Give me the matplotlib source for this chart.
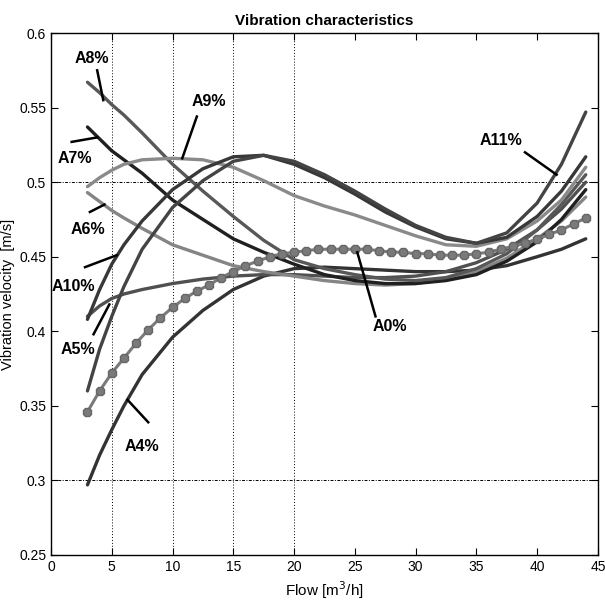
import numpy as np
import matplotlib
matplotlib.use("Agg")
import matplotlib.pyplot as plt

plt.rcParams['font.family'] = ['Liberation Sans', 'DejaVu Sans']

# flow points of the fitted curves
x_fit = [3, 4, 5, 6, 7.5, 10, 12.5, 15, 17.5, 20, 22.5, 25, 27.5, 30, 32.5, 35, 37.5, 40, 42, 44]

a8 = [0.567, 0.560, 0.552, 0.545, 0.533, 0.512, 0.494, 0.477, 0.461, 0.448, 0.442, 0.438, 0.435, 0.434, 0.436, 0.442, 0.452, 0.468, 0.485, 0.505]
a7 = [0.537, 0.529, 0.521, 0.515, 0.506, 0.488, 0.475, 0.462, 0.453, 0.445, 0.438, 0.434, 0.432, 0.432, 0.434, 0.438, 0.447, 0.460, 0.475, 0.495]
a9 = [0.497, 0.503, 0.508, 0.512, 0.515, 0.516, 0.515, 0.510, 0.501, 0.491, 0.484, 0.478, 0.471, 0.464, 0.458, 0.457, 0.462, 0.474, 0.488, 0.510]
a6 = [0.493, 0.487, 0.481, 0.476, 0.469, 0.458, 0.451, 0.444, 0.440, 0.437, 0.434, 0.432, 0.431, 0.432, 0.435, 0.440, 0.449, 0.462, 0.474, 0.490]
a10 = [0.408, 0.428, 0.445, 0.458, 0.474, 0.495, 0.509, 0.517, 0.518, 0.512, 0.503, 0.492, 0.480, 0.470, 0.462, 0.459, 0.463, 0.477, 0.494, 0.517]
a11 = [0.360, 0.388, 0.410, 0.430, 0.455, 0.483, 0.501, 0.514, 0.518, 0.514, 0.505, 0.494, 0.482, 0.471, 0.463, 0.459, 0.466, 0.486, 0.512, 0.547]
a5 = [0.410, 0.417, 0.422, 0.425, 0.428, 0.432, 0.435, 0.437, 0.438, 0.438, 0.437, 0.436, 0.436, 0.437, 0.440, 0.446, 0.455, 0.468, 0.482, 0.500]
a4 = [0.297, 0.317, 0.334, 0.350, 0.371, 0.396, 0.414, 0.428, 0.437, 0.442, 0.443, 0.442, 0.441, 0.440, 0.440, 0.441, 0.444, 0.450, 0.455, 0.462]

# measured points (A0%)
x_a0 = list(range(3, 45))
a0 = [0.346, 0.360, 0.372, 0.382, 0.392, 0.401, 0.409, 0.416, 0.422, 0.427,
      0.431, 0.436, 0.440, 0.444, 0.447, 0.450, 0.452, 0.453, 0.454, 0.455,
      0.455, 0.455, 0.455, 0.455, 0.454, 0.453, 0.453, 0.452, 0.452, 0.451,
      0.451, 0.451, 0.452, 0.453, 0.455, 0.457, 0.459, 0.462, 0.465, 0.468,
      0.472, 0.476]

fig = plt.figure(figsize=(6.05, 6.15), dpi=100)
ax = fig.add_axes([0.0843, 0.0976, 0.9040, 0.8487])

for vx in [5, 10, 15, 20]:
    ax.axvline(vx, color='black', lw=0.7, ls=(0, (1, 2)), zorder=0)
for hy in [0.5, 0.3]:
    ax.axhline(hy, color='black', lw=0.7, ls=(0, (3, 1.5, 1, 1.5)), zorder=0)

curves = [
    (a4, '#333333'), (a5, '#505050'), (a6, '#858585'), (a7, '#202020'),
    (a8, '#585858'), (a9, '#8a8a8a'), (a10, '#383838'), (a11, '#444444'),
]
for ys, c in curves:
    ax.plot(x_fit, ys, color=c, lw=2.4, solid_capstyle='round')

ax.plot(x_a0, a0, color='#7a7a7a', lw=2.2, marker='8', markersize=7,
        markerfacecolor='#7a7a7a', markeredgecolor='#666666')

labels = [
    ('A8%', (3.4, 0.583), (3.8, 0.575), (4.3, 0.555)),
    ('A7%', (2.0, 0.516), (1.7, 0.527), (3.8, 0.530)),
    ('A9%', (13.0, 0.554), (12.0, 0.544), (10.8, 0.516)),
    ('A6%', (3.0, 0.468), (3.2, 0.480), (4.4, 0.485)),
    ('A10%', (1.8, 0.430), (2.8, 0.443), (5.4, 0.451)),
    ('A5%', (2.2, 0.388), (3.5, 0.398), (4.8, 0.418)),
    ('A4%', (7.5, 0.323), (6.3, 0.354), (8.0, 0.339)),
    ('A0%', (27.9, 0.403), (25.2, 0.453), (26.7, 0.410)),
    ('A11%', (37.0, 0.528), (39.0, 0.520), (41.6, 0.505)),
]
for txt, pos, p1, p2 in labels:
    ax.text(pos[0], pos[1], txt, ha='center', va='center', fontsize=11.5,
            fontweight='bold')
    ax.plot([p1[0], p2[0]], [p1[1], p2[1]], color='black', lw=1.8)

ax.set_xlim(0, 45)
ax.set_ylim(0.25, 0.6)
ax.set_xticks(range(0, 46, 5))
ax.set_yticks(np.arange(0.25, 0.601, 0.05))
ax.set_yticklabels(['0.25', '0.3', '0.35', '0.4', '0.45', '0.5', '0.55', '0.6'])
ax.tick_params(direction='in', top=True, right=True, labelsize=10, length=5)
for s in ax.spines.values():
    s.set_linewidth(1.0)

ax.set_title('Vibration characteristics', fontsize=11, fontweight='bold', pad=6)
ax.set_xlabel('Flow [m$^3$/h]', fontsize=11, labelpad=4)
ax.set_ylabel('Vibration velocity  [m/s]', fontsize=10.5, labelpad=3)

fig.savefig('out.png', dpi=100)
